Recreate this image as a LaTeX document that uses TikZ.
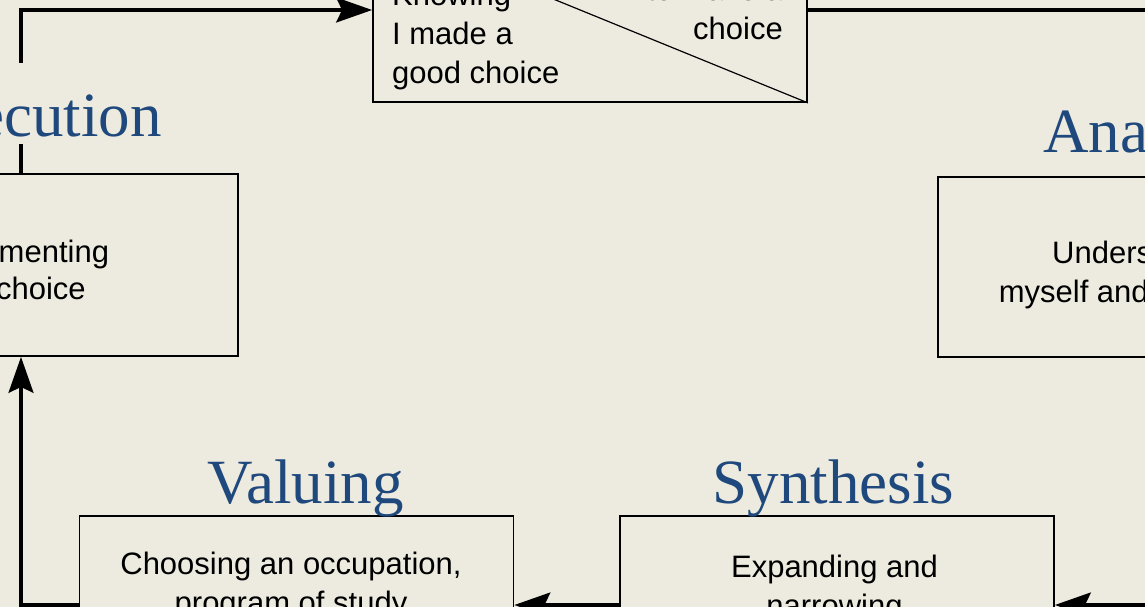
\documentclass[tikz,border=0pt]{standalone}
\usepackage{fontspec}
\setmainfont{Liberation Sans}
\newfontfamily\titlefont{Liberation Serif}
\usetikzlibrary{arrows.meta}
\definecolor{bgc}{RGB}{237,235,224}
\definecolor{titleblue}{RGB}{31,73,125}
\begin{document}
\begin{tikzpicture}[x=1pt,y=-1pt,
  box/.style={draw, fill=bgc, line width=1.8pt, minimum width=434pt, inner sep=0pt},
  conn/.style={line width=3.2pt, -{Stealth[length=36pt,width=25pt,inset=6pt]}},
  title/.style={font=\titlefont\fontsize{63}{70}\selectfont, text=titleblue, inner sep=0pt},
  body/.style={font=\fontsize{31}{39}\selectfont, inner sep=0pt}]
\useasboundingbox (0,0) rectangle (1145,607);
\fill[bgc] (0,0) rectangle (1145,607);
\clip (0,0) rectangle (1145,607);
% boxes
\node[box, minimum height=176pt] (choice) at (590,14) {};
\draw[line width=1.2pt] (choice.north west) -- (choice.south east);
\node[box, minimum height=182pt] (exec) at (21,265) {};
\node[box, minimum height=180pt] (ana) at (1155,267) {};
\node[box, minimum height=180pt] (val) at (296.5,606) {};
\node[box, minimum height=180pt] (syn) at (837,606) {};
% rows for connectors
\coordinate (toprow) at (0,10);
\coordinate (botrow) at (0,605);
% connectors
\draw[conn] (exec.north) |- (choice.west |- toprow);
\draw[conn] (choice.east |- toprow) -| (ana.north);
\draw[conn] (ana.south) |- (syn.east |- botrow);
\draw[conn] (syn.west |- botrow) -- (val.east |- botrow);
\draw[conn] (val.west |- botrow) -| (exec.south);
% titles
\node[title, fill=bgc, anchor=base east, text height=73pt, text depth=8pt] (exect) at (162,136) {Execution};
\node[title, fill=bgc, anchor=base west] (anat) at (1043,152) {Analysis};
\node[title, anchor=base] (valt) at (305.5,503) {Valuing};
\node[title, anchor=base] (synt) at (833.5,503) {Synthesis};
% body texts (anchor base = baseline of the last line)
\node[body, align=left, anchor=base west] (choiceL) at (392,84) {Knowing\\I made a\\good choice};
\node[body, align=right, anchor=base east] (choiceR) at (783,40) {to make a\\choice};
\node[body, align=center, anchor=base, font=\fontsize{31}{37}\selectfont] (exectext) at (16,299) {Implementing\\my choice};
\node[body, align=center, anchor=base] (anatext) at (1153,302) {Understanding\\myself and my options};
\node[body, align=center, anchor=base] (valtext) at (291,613) {Choosing an occupation,\\program of study};
\node[body, align=center, anchor=base] (syntext) at (834.5,616) {Expanding and\\narrowing};
\end{tikzpicture}
\end{document}
